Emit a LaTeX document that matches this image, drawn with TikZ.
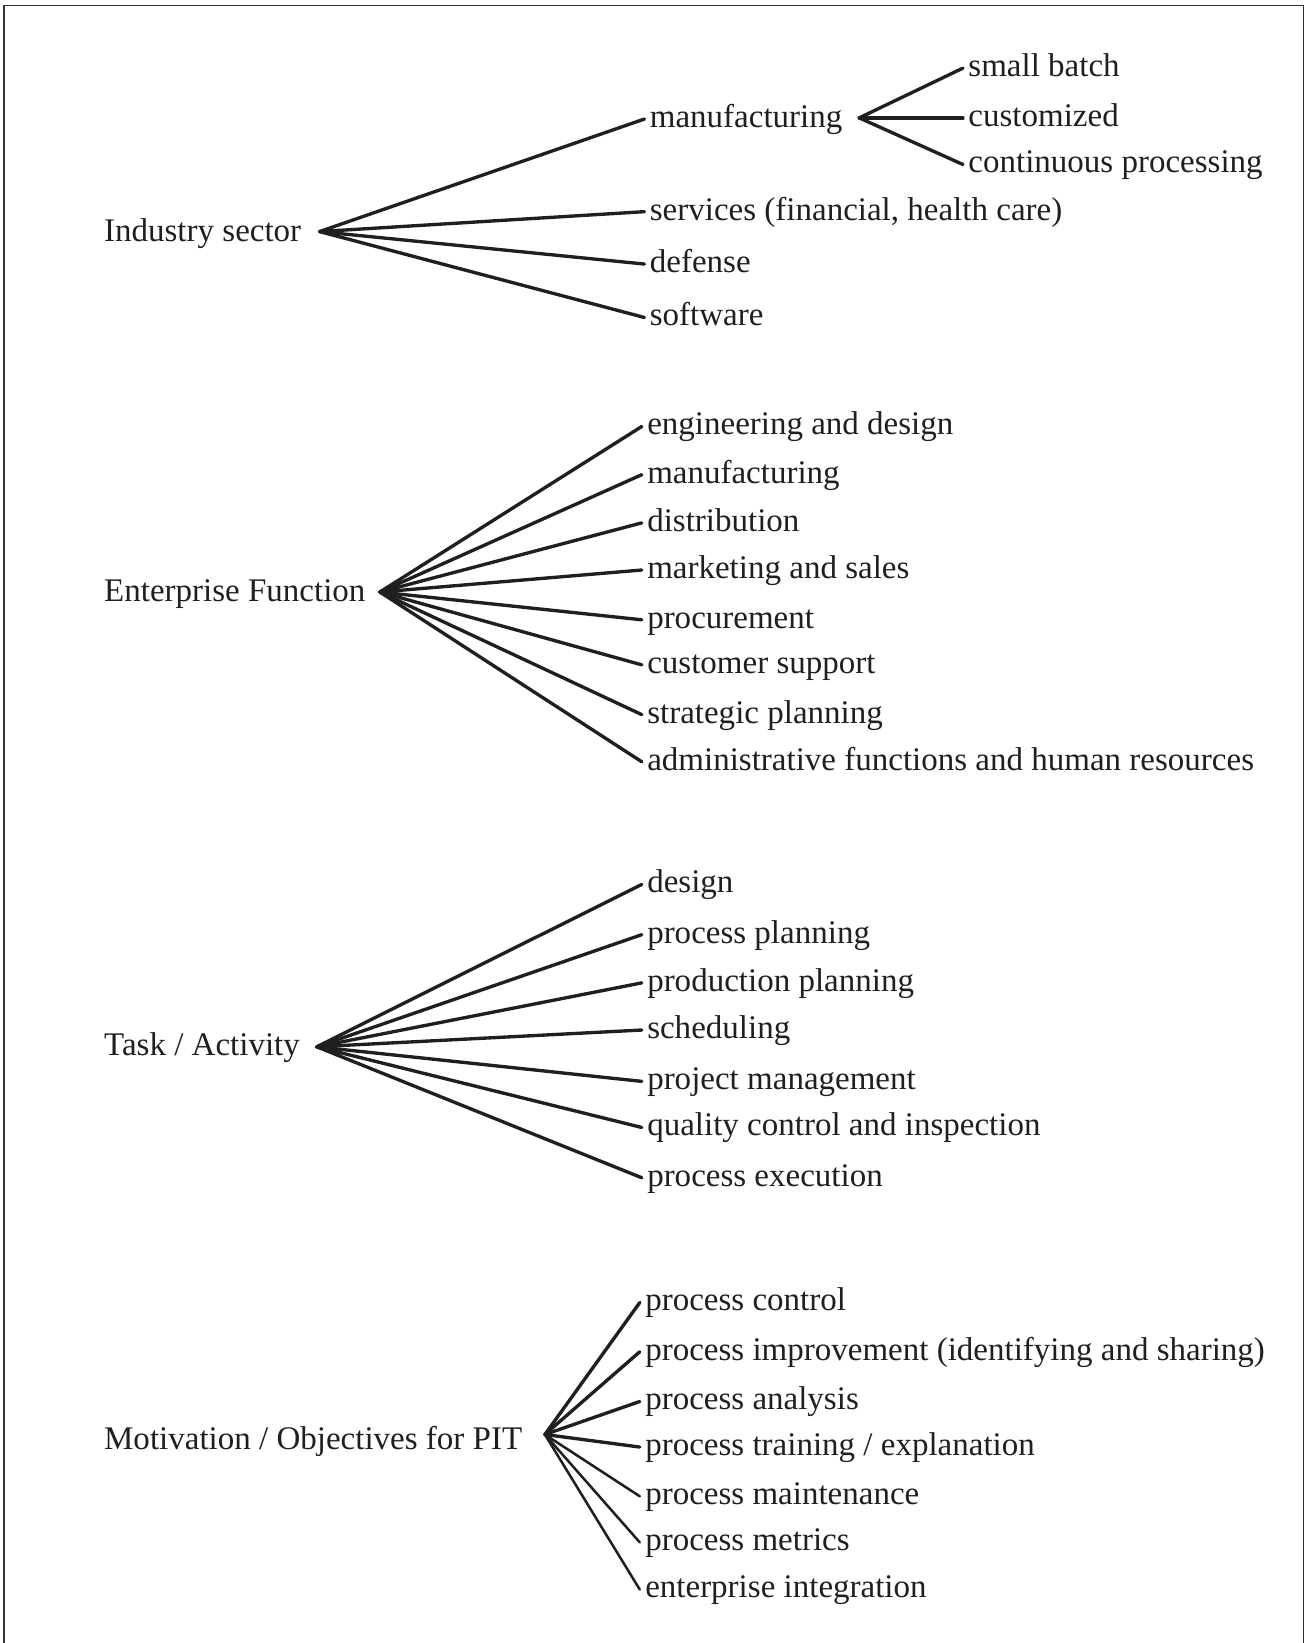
\documentclass[tikz,border=0pt]{standalone}
\usepackage{fontspec}
\setmainfont{Liberation Serif}
\begin{document}
\begin{tikzpicture}[x=0.5pt,y=-0.5pt,
  lbl/.style={anchor=west,inner xsep=2.4pt,inner ysep=0pt,text=black!88,
    font=\fontsize{15.75}{18}\selectfont,text height=10pt,text depth=2pt},
  rootlbl/.style={lbl,inner xsep=0pt},
  br/.style={line width=1.6pt,line cap=round,draw=black!88},
  thinbr/.style={line width=1.2pt,line cap=round,draw=black!88}]
\useasboundingbox (0,0) rectangle (1246,1568);
\draw[line width=0.7pt,black!80] (4,1568) -- (4,5) -- (1244,5) -- (1244,1568);

% ---------- Industry sector ----------
\node[rootlbl] (is) at (99,222) {Industry sector};
\coordinate (isF) at (305,221);
\node[lbl] (is1) at (615,113.6) {manufacturing};
\node[lbl] (is2) at (615,202) {services (financial, health care)};
\node[lbl] (is3) at (615,252) {defense};
\node[lbl] (is4) at (615,303) {software};
\foreach \c in {is1,is2,is3,is4} \draw[br] (isF) -- (\c.west);

\coordinate (mfF) at (820,112.5);
\node[lbl] (mf1) at (919,65) {small batch};
\node[lbl] (mf2) at (919,112.5) {customized};
\node[lbl] (mf3) at (919,157) {continuous processing};
\foreach \c in {mf1,mf2,mf3} \draw[br] (mfF) -- (\c.west);

% ---------- Enterprise Function ----------
\node[rootlbl] (ef) at (99,566) {Enterprise Function};
\coordinate (efF) at (362.5,565);
\node[lbl] (ef1) at (612.5,407) {engineering and design};
\node[lbl] (ef2) at (612.5,453) {manufacturing};
\node[lbl] (ef3) at (612.5,499) {distribution};
\node[lbl] (ef4) at (612.5,544) {marketing and sales};
\node[lbl] (ef5) at (612.5,591.5) {procurement};
\node[lbl] (ef6) at (612.5,634.5) {customer support};
\node[lbl] (ef7) at (612.5,682) {strategic planning};
\node[lbl] (ef8) at (612.5,727) {administrative functions and human resources};
\foreach \c in {ef1,ef2,ef3,ef4,ef5,ef6,ef7,ef8} \draw[br] (efF) -- (\c.west);

% ---------- Task / Activity ----------
\node[rootlbl] (ta) at (99,999) {Task / Activity};
\coordinate (taF) at (302.3,999);
\node[lbl] (ta1) at (612.5,844) {design};
\node[lbl] (ta2) at (612.5,892) {process planning};
\node[lbl] (ta3) at (612.5,938) {production planning};
\node[lbl] (ta4) at (612.5,983) {scheduling};
\node[lbl] (ta5) at (612.5,1032) {project management};
\node[lbl] (ta6) at (612.5,1076) {quality control and inspection};
\node[lbl] (ta7) at (612.5,1124) {process execution};
\foreach \c in {ta1,ta2,ta3,ta4,ta5,ta6,ta7} \draw[br] (taF) -- (\c.west);

% ---------- Motivation / Objectives for PIT ----------
\node[rootlbl] (mo) at (99,1375) {Motivation / Objectives for PIT};
\coordinate (moF) at (520,1369);
\node[lbl] (mo1) at (610.6,1243) {process control};
\node[lbl] (mo2) at (610.6,1290) {process improvement (identifying and sharing)};
\node[lbl] (mo3) at (610.6,1337.5) {process analysis};
\node[lbl] (mo4) at (610.6,1381) {process training / explanation};
\node[lbl] (mo5) at (610.6,1428) {process maintenance};
\node[lbl] (mo6) at (610.6,1472) {process metrics};
\node[lbl] (mo7) at (610.6,1517) {enterprise integration};
\foreach \c in {mo1,mo2,mo3,mo4} \draw[br] (moF) -- (\c.west);
\foreach \c in {mo5,mo6,mo7} \draw[thinbr] (moF) -- (\c.west);
\end{tikzpicture}
\end{document}
